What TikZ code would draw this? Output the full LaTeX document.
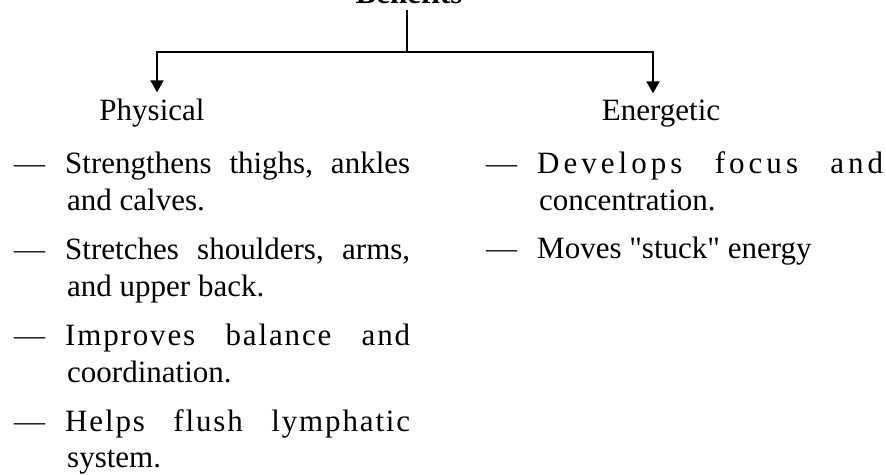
\documentclass[tikz,border=0pt]{standalone}
\usepackage{fontspec}
\setmainfont{Liberation Serif}
\usetikzlibrary{arrows.meta,calc}
\begin{document}
\begin{tikzpicture}[x=1pt,y=-1pt,
  txt/.style={inner sep=0pt, anchor=base west, font=\fontsize{31}{37}\selectfont},
  head/.style={inner sep=6pt, anchor=base, font=\fontsize{31}{37}\selectfont},
  dashmark/.style={inner sep=0pt, anchor=base west, font=\fontsize{31}{37}\selectfont, text=black!85},
  conn/.style={line width=2pt, line cap=rect},
  arr/.style={line width=2pt, -{Triangle[width=13pt,length=12pt]}}]
\useasboundingbox (0,0) rectangle (886,474);
% title and branches
\node[head, font=\fontsize{31}{37}\selectfont\bfseries] (ben) at (409,3) {Benefits};
\coordinate (j) at (407,52);
\coordinate (lc) at (157,52);
\coordinate (rc) at (653,52);
\node[head] (phy) at (152,120) {Physical};
\node[head] (ene) at (661,120) {Energetic};
\draw[line width=1.5pt] ($(ben.base)+(-2,7)$) -- (j);
\draw[conn] (lc) -- (rc);
\draw[arr] (lc) -- (lc |- phy.north);
\draw[arr] (rc) -- (rc |- ene.north);
% physical list
\node[dashmark] (pd1) at (14,173) {—};
\node[txt] (p1a) at (65,173) {\hbox to 345pt{Strengthens\hfill thighs,\hfill ankles}};
\node[txt] (p1b) at (67,210) {and calves.};
\node[dashmark] (pd2) at (14,259) {—};
\node[txt] (p2a) at (65,259) {\hbox to 345pt{Stretches\hfill shoulders,\hfill arms,}};
\node[txt] (p2b) at (67,296) {and upper back.};
\node[dashmark] (pd3) at (14,345) {—};
\node[txt] (p3a) at (65,345) {\addfontfeature{LetterSpace=6}\hbox to 345pt{Improves\hfill balance\hfill and}};
\node[txt] (p3b) at (67,382) {coordination.};
\node[dashmark] (pd4) at (14,431) {—};
\node[txt] (p4a) at (65,431) {\addfontfeature{LetterSpace=6}\hbox to 345pt{Helps\hfill flush\hfill lymphatic}};
\node[txt] (p4b) at (67,467) {system.};
% energetic list
\node[dashmark] (ed1) at (486,173) {—};
\node[txt] (e1a) at (537,173) {\addfontfeature{LetterSpace=13}\hbox to 346pt{Develops\hfill focus\hfill and}};
\node[txt] (e1b) at (539,210) {concentration.};
\node[dashmark] (ed2) at (486,258) {—};
\node[txt] (e2a) at (537,258) {\addfontfeature{Ligatures=TeXOff}Moves "stuck" energy};
\end{tikzpicture}
\end{document}
